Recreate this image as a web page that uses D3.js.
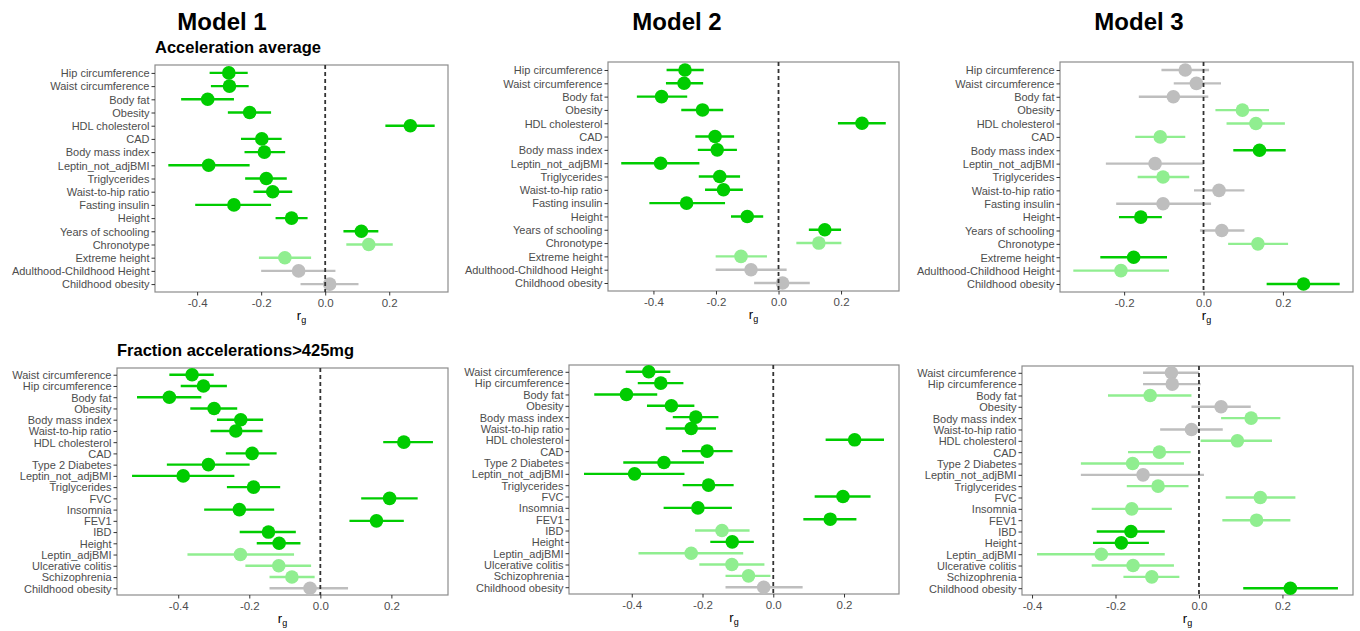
<!DOCTYPE html>
<html>
<head>
<meta charset="utf-8">
<script src="https://cdn.jsdelivr.net/npm/d3@7"></script>
<style>
  body { margin: 0; background: #fff; }
  svg { display: block; font-family: "Liberation Sans", Arial, sans-serif; }
  .tick text { fill: #4d4d4d; }
</style>
</head>
<body>
<svg id="chart" width="1360" height="631"></svg>
<script>
// trait order, top row (Acceleration average) and bottom row (Fraction accelerations>425mg)
const traitsTop = ["Hip circumference", "Waist circumference", "Body fat", "Obesity", "HDL cholesterol",
  "CAD", "Body mass index", "Leptin_not_adjBMI", "Triglycerides", "Waist-to-hip ratio",
  "Fasting insulin", "Height", "Years of schooling", "Chronotype", "Extreme height",
  "Adulthood-Childhood Height", "Childhood obesity"];
const traitsBottom = ["Waist circumference", "Hip circumference", "Body fat", "Obesity", "Body mass index",
  "Waist-to-hip ratio", "HDL cholesterol", "CAD", "Type 2 Diabetes", "Leptin_not_adjBMI",
  "Triglycerides", "FVC", "Insomnia", "FEV1", "IBD", "Height", "Leptin_adjBMI",
  "Ulcerative colitis", "Schizophrenia", "Childhood obesity"];

// d = significant, l = nominal, g = not significant
const avgM1Est = [-0.301, -0.299, -0.367, -0.236, 0.266, -0.198, -0.190, -0.364, -0.184, -0.164, -0.285, -0.105, 0.113, 0.136, -0.126, -0.083, 0.014];
const avgM1Lo  = [-0.361, -0.357, -0.450, -0.304, 0.188, -0.263, -0.252, -0.490, -0.250, -0.224, -0.406, -0.155, 0.057, 0.066, -0.207, -0.200, -0.077];
const avgM1Hi  = [-0.242, -0.239, -0.285, -0.169, 0.342, -0.136, -0.125, -0.236, -0.120, -0.103, -0.169, -0.055, 0.166, 0.211, -0.044, 0.032, 0.104];
const avgM1Sig = ["d","d","d","d","d","d","d","d","d","d","d","d","d","l","l","g","g"];

const avgM2Est = [-0.299, -0.302, -0.374, -0.243, 0.267, -0.203, -0.196, -0.377, -0.188, -0.176, -0.294, -0.100, 0.148, 0.129, -0.120, -0.088, 0.013];
const avgM2Lo  = [-0.358, -0.360, -0.453, -0.311, 0.190, -0.266, -0.258, -0.503, -0.255, -0.235, -0.413, -0.152, 0.097, 0.057, -0.201, -0.201, -0.078];
const avgM2Hi  = [-0.239, -0.241, -0.292, -0.177, 0.343, -0.142, -0.133, -0.253, -0.123, -0.114, -0.171, -0.049, 0.200, 0.201, -0.037, 0.026, 0.100];
const avgM2Sig = ["d","d","d","d","d","d","d","d","d","d","d","d","d","l","l","g","g"];

const avgM3Est = [-0.046, -0.018, -0.076, 0.098, 0.132, -0.109, 0.141, -0.122, -0.102, 0.039, -0.102, -0.158, 0.046, 0.137, -0.176, -0.208, 0.252];
const avgM3Lo  = [-0.106, -0.075, -0.163, 0.030, 0.058, -0.172, 0.075, -0.246, -0.166, -0.024, -0.220, -0.213, -0.009, 0.062, -0.260, -0.328, 0.159];
const avgM3Hi  = [0.014, 0.044, 0.012, 0.165, 0.205, -0.046, 0.207, 0.000, -0.036, 0.103, 0.019, -0.105, 0.103, 0.213, -0.092, -0.087, 0.343];
const avgM3Sig = ["g","g","g","l","l","l","d","g","l","g","g","d","g","l","d","l","d"];

const fracM1Est = [-0.361, -0.329, -0.425, -0.299, -0.224, -0.238, 0.235, -0.192, -0.315, -0.386, -0.188, 0.195, -0.228, 0.158, -0.146, -0.116, -0.225, -0.117, -0.080, -0.029];
const fracM1Lo  = [-0.425, -0.393, -0.516, -0.366, -0.291, -0.309, 0.177, -0.266, -0.432, -0.530, -0.263, 0.115, -0.327, 0.082, -0.227, -0.179, -0.374, -0.211, -0.143, -0.143];
const fracM1Hi  = [-0.300, -0.263, -0.335, -0.234, -0.161, -0.163, 0.317, -0.123, -0.199, -0.242, -0.113, 0.274, -0.130, 0.235, -0.069, -0.056, -0.074, -0.026, -0.016, 0.078];
const fracM1Sig = ["d","d","d","d","d","d","d","d","d","d","d","d","d","d","d","d","l","l","l","g"];

const fracM2Est = [-0.352, -0.318, -0.415, -0.288, -0.219, -0.232, 0.230, -0.187, -0.309, -0.392, -0.183, 0.197, -0.213, 0.161, -0.145, -0.116, -0.232, -0.117, -0.070, -0.027];
const fracM2Lo  = [-0.417, -0.383, -0.506, -0.357, -0.284, -0.304, 0.148, -0.258, -0.424, -0.535, -0.256, 0.117, -0.310, 0.085, -0.221, -0.178, -0.381, -0.209, -0.135, -0.135];
const fracM2Hi  = [-0.291, -0.254, -0.328, -0.223, -0.155, -0.162, 0.313, -0.115, -0.196, -0.251, -0.112, 0.275, -0.117, 0.235, -0.067, -0.055, -0.085, -0.025, -0.008, 0.083];
const fracM2Sig = ["d","d","d","d","d","d","d","d","d","d","d","d","d","d","l","d","l","l","l","g"];

const fracM3Est = [-0.066, -0.064, -0.117, 0.053, 0.125, -0.018, 0.092, -0.095, -0.159, -0.134, -0.098, 0.147, -0.161, 0.138, -0.163, -0.186, -0.234, -0.158, -0.113, 0.219];
const fracM3Lo  = [-0.134, -0.134, -0.218, -0.018, 0.053, -0.093, 0.004, -0.170, -0.283, -0.283, -0.173, 0.064, -0.257, 0.056, -0.245, -0.254, -0.388, -0.257, -0.181, 0.106];
const fracM3Hi  = [0.000, 0.004, -0.018, 0.124, 0.195, 0.057, 0.175, -0.020, -0.036, 0.012, -0.025, 0.231, -0.065, 0.219, -0.082, -0.120, -0.082, -0.060, -0.047, 0.333];
const fracM3Sig = ["g","g","l","g","l","g","l","l","l","g","l","l","l","l","d","d","l","l","l","d"];

const colors = { d: "#00cc00", l: "#90ee90", g: "#bebebe" };

const svg = d3.select("#chart");
const fmt = d3.formatLocale({ decimal: ".", thousands: ",", grouping: [3], currency: ["", ""], minus: "-" }).format(".1f");

// panel boxes
const panels = [
  { box: [155, 65, 448, 292], traits: traitsTop, est: avgM1Est, lo: avgM1Lo, hi: avgM1Hi, sig: avgM1Sig },
  { box: [608, 62, 899, 291], traits: traitsTop, est: avgM2Est, lo: avgM2Lo, hi: avgM2Hi, sig: avgM2Sig },
  { box: [1060, 62, 1353, 292], traits: traitsTop, est: avgM3Est, lo: avgM3Lo, hi: avgM3Hi, sig: avgM3Sig },
  { box: [117, 368, 448, 595], traits: traitsBottom, est: fracM1Est, lo: fracM1Lo, hi: fracM1Hi, sig: fracM1Sig },
  { box: [569, 365, 899, 594], traits: traitsBottom, est: fracM2Est, lo: fracM2Lo, hi: fracM2Hi, sig: fracM2Sig },
  { box: [1022, 366, 1353, 595], traits: traitsBottom, est: fracM3Est, lo: fracM3Lo, hi: fracM3Hi, sig: fracM3Sig }
];

panels.forEach(p => {
  const [x0, y0, x1, y1] = p.box;
  const rows = p.traits.map((t, i) => ({ trait: t, est: p.est[i], lo: p.lo[i], hi: p.hi[i], sig: p.sig[i] }));

  // ggplot-like 5% expansion
  const mn = d3.min(rows, d => d.lo), mx = d3.max(rows, d => d.hi);
  const pad = (mx - mn) * 0.05;
  const x = d3.scaleLinear().domain([mn - pad, mx + pad]).range([x0, x1]);
  const y = d3.scalePoint().domain(p.traits).range([y0, y1]).padding(0.6);

  const g = svg.append("g");

  g.append("rect")
    .attr("x", x0).attr("y", y0)
    .attr("width", x1 - x0).attr("height", y1 - y0)
    .attr("fill", "none").attr("stroke", "#8c8c8c").attr("stroke-width", 1.2);

  const xa = g.append("g")
    .attr("transform", `translate(0,${y1})`)
    .call(d3.axisBottom(x).ticks(4).tickFormat(fmt).tickSize(3.5).tickPadding(3));
  xa.select(".domain").remove();
  xa.selectAll(".tick line").attr("stroke", "#333");
  xa.selectAll(".tick text").attr("font-size", 11.5);

  const ya = g.append("g")
    .attr("transform", `translate(${x0},0)`)
    .call(d3.axisLeft(y).tickSize(3.5).tickPadding(2));
  ya.select(".domain").remove();
  ya.selectAll(".tick line").attr("stroke", "#333");
  ya.selectAll(".tick text").attr("font-size", 11).attr("dy", "0.35em");

  g.selectAll(".ci")
    .data(rows)
    .enter().append("line")
    .attr("x1", d => x(d.lo)).attr("x2", d => x(d.hi))
    .attr("y1", d => y(d.trait)).attr("y2", d => y(d.trait))
    .attr("stroke", d => colors[d.sig])
    .attr("stroke-width", 2.4);

  g.selectAll(".pt")
    .data(rows)
    .enter().append("circle")
    .attr("cx", d => x(d.est)).attr("cy", d => y(d.trait))
    .attr("r", 6.8)
    .attr("fill", d => colors[d.sig]);

  g.append("line")
    .attr("x1", x(0)).attr("x2", x(0))
    .attr("y1", y0).attr("y2", y1)
    .attr("stroke", "#333").attr("stroke-width", 1.8)
    .attr("stroke-dasharray", "4,3");

  // x title r_g
  const xt = g.append("text")
    .attr("x", (x0 + x1) / 2).attr("y", y1 + 28)
    .attr("text-anchor", "middle").attr("font-size", 13).attr("fill", "#000");
  xt.append("tspan").text("r");
  xt.append("tspan").attr("font-size", 9).attr("dy", 3).text("g");
});

// column titles
const modelTitles = ["Model 1", "Model 2", "Model 3"];
const titleX = [222, 677, 1139];
svg.selectAll(".mt")
  .data(modelTitles)
  .enter().append("text")
  .attr("x", (d, i) => titleX[i]).attr("y", 30)
  .attr("text-anchor", "middle")
  .attr("font-size", 24).attr("font-weight", "bold")
  .text(d => d);

svg.append("text").attr("x", 155).attr("y", 53)
  .attr("font-size", 16.5).attr("font-weight", "bold").text("Acceleration average");
svg.append("text").attr("x", 117).attr("y", 356)
  .attr("font-size", 16.5).attr("font-weight", "bold").text("Fraction accelerations>425mg");
</script>
</body>
</html>
